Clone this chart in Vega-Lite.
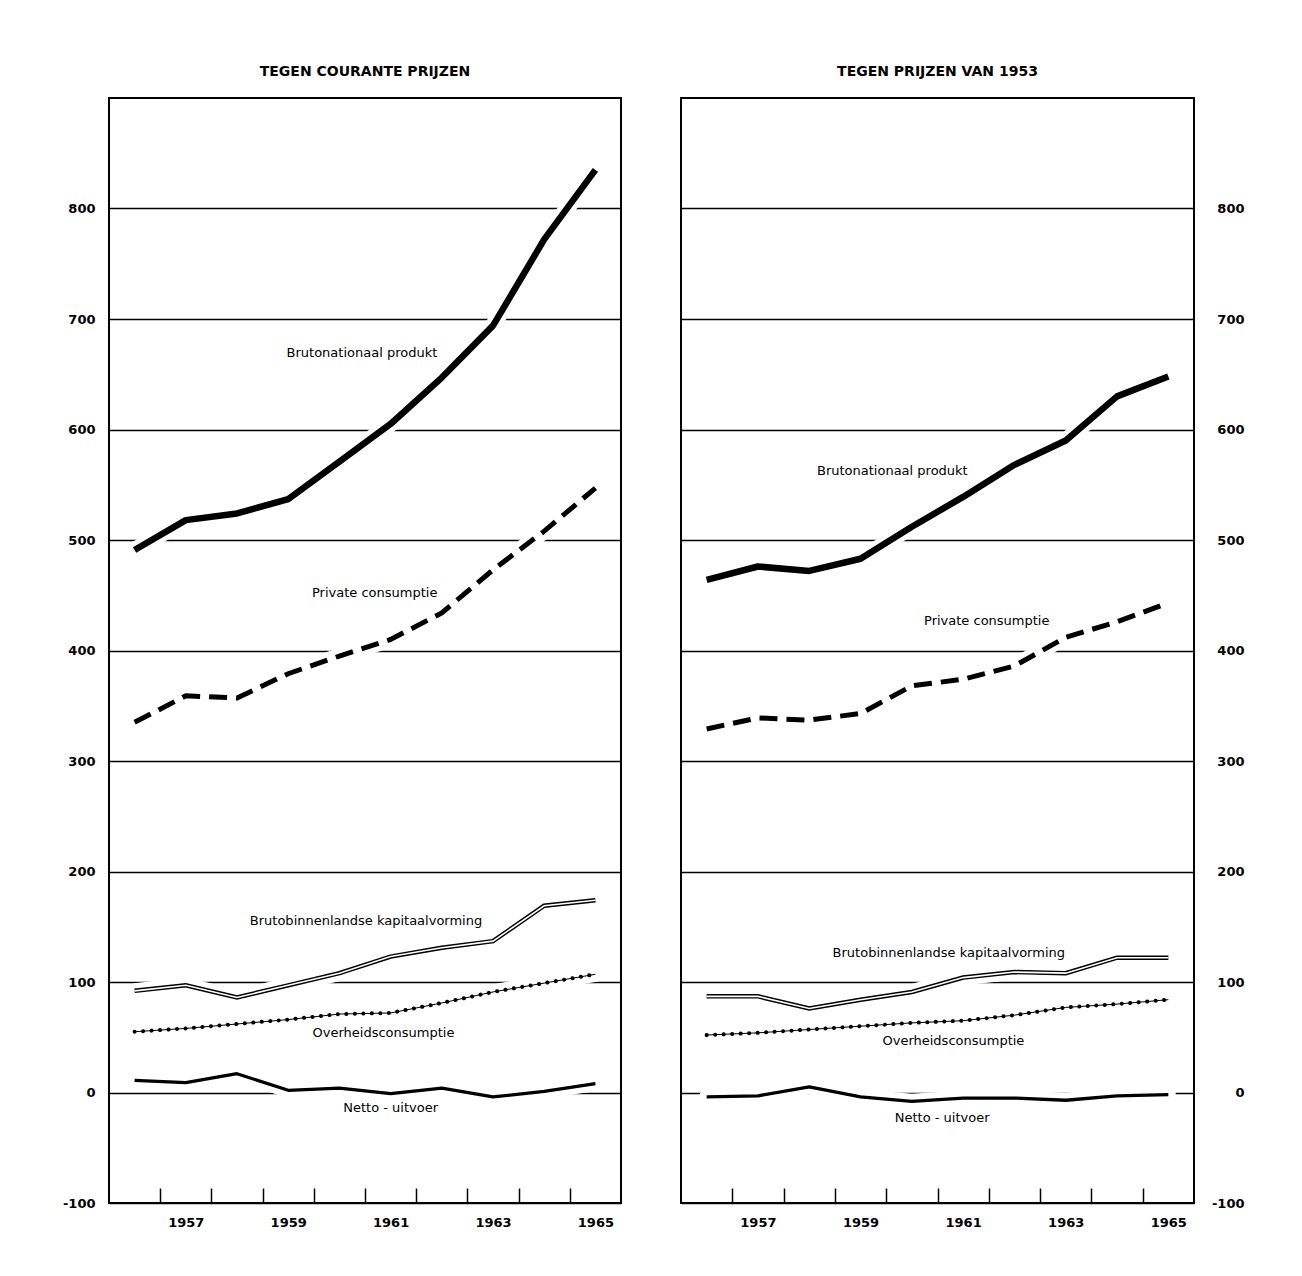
{
  "$schema": "https://vega.github.io/schema/vega-lite/v6.json",
  "background": "white",
  "padding": {"left": 61, "top": 64, "right": 5, "bottom": 5},
  "spacing": 58,
  "datasets": {
    "left": [
      {"s": "Brutonationaal produkt", "year": 1956, "v": 491},
      {"s": "Brutonationaal produkt", "year": 1957, "v": 518},
      {"s": "Brutonationaal produkt", "year": 1958, "v": 524},
      {"s": "Brutonationaal produkt", "year": 1959, "v": 537},
      {"s": "Brutonationaal produkt", "year": 1960, "v": 571},
      {"s": "Brutonationaal produkt", "year": 1961, "v": 605},
      {"s": "Brutonationaal produkt", "year": 1962, "v": 647},
      {"s": "Brutonationaal produkt", "year": 1963, "v": 694},
      {"s": "Brutonationaal produkt", "year": 1964, "v": 772},
      {"s": "Brutonationaal produkt", "year": 1965, "v": 835},
      {"s": "Private consumptie", "year": 1956, "v": 335},
      {"s": "Private consumptie", "year": 1957, "v": 359},
      {"s": "Private consumptie", "year": 1958, "v": 357},
      {"s": "Private consumptie", "year": 1959, "v": 379},
      {"s": "Private consumptie", "year": 1960, "v": 395},
      {"s": "Private consumptie", "year": 1961, "v": 410},
      {"s": "Private consumptie", "year": 1962, "v": 434},
      {"s": "Private consumptie", "year": 1963, "v": 473},
      {"s": "Private consumptie", "year": 1964, "v": 508},
      {"s": "Private consumptie", "year": 1965, "v": 547},
      {"s": "Brutobinnenlandse kapitaalvorming", "year": 1956, "v": 92},
      {"s": "Brutobinnenlandse kapitaalvorming", "year": 1957, "v": 97},
      {"s": "Brutobinnenlandse kapitaalvorming", "year": 1958, "v": 86},
      {"s": "Brutobinnenlandse kapitaalvorming", "year": 1959, "v": 97},
      {"s": "Brutobinnenlandse kapitaalvorming", "year": 1960, "v": 108},
      {"s": "Brutobinnenlandse kapitaalvorming", "year": 1961, "v": 123},
      {"s": "Brutobinnenlandse kapitaalvorming", "year": 1962, "v": 131},
      {"s": "Brutobinnenlandse kapitaalvorming", "year": 1963, "v": 137},
      {"s": "Brutobinnenlandse kapitaalvorming", "year": 1964, "v": 169},
      {"s": "Brutobinnenlandse kapitaalvorming", "year": 1965, "v": 174},
      {"s": "Overheidsconsumptie", "year": 1956, "v": 55},
      {"s": "Overheidsconsumptie", "year": 1957, "v": 58},
      {"s": "Overheidsconsumptie", "year": 1958, "v": 62},
      {"s": "Overheidsconsumptie", "year": 1959, "v": 66},
      {"s": "Overheidsconsumptie", "year": 1960, "v": 71},
      {"s": "Overheidsconsumptie", "year": 1961, "v": 72},
      {"s": "Overheidsconsumptie", "year": 1962, "v": 81},
      {"s": "Overheidsconsumptie", "year": 1963, "v": 91},
      {"s": "Overheidsconsumptie", "year": 1964, "v": 99},
      {"s": "Overheidsconsumptie", "year": 1965, "v": 107},
      {"s": "Netto - uitvoer", "year": 1956, "v": 11},
      {"s": "Netto - uitvoer", "year": 1957, "v": 9},
      {"s": "Netto - uitvoer", "year": 1958, "v": 17},
      {"s": "Netto - uitvoer", "year": 1959, "v": 2},
      {"s": "Netto - uitvoer", "year": 1960, "v": 4},
      {"s": "Netto - uitvoer", "year": 1961, "v": -1},
      {"s": "Netto - uitvoer", "year": 1962, "v": 4},
      {"s": "Netto - uitvoer", "year": 1963, "v": -4},
      {"s": "Netto - uitvoer", "year": 1964, "v": 1},
      {"s": "Netto - uitvoer", "year": 1965, "v": 8}
    ],
    "right": [
      {"s": "Brutonationaal produkt", "year": 1956, "v": 464},
      {"s": "Brutonationaal produkt", "year": 1957, "v": 476},
      {"s": "Brutonationaal produkt", "year": 1958, "v": 472},
      {"s": "Brutonationaal produkt", "year": 1959, "v": 483},
      {"s": "Brutonationaal produkt", "year": 1960, "v": 512},
      {"s": "Brutonationaal produkt", "year": 1961, "v": 539},
      {"s": "Brutonationaal produkt", "year": 1962, "v": 568},
      {"s": "Brutonationaal produkt", "year": 1963, "v": 590},
      {"s": "Brutonationaal produkt", "year": 1964, "v": 630},
      {"s": "Brutonationaal produkt", "year": 1965, "v": 648},
      {"s": "Private consumptie", "year": 1956, "v": 329},
      {"s": "Private consumptie", "year": 1957, "v": 339},
      {"s": "Private consumptie", "year": 1958, "v": 337},
      {"s": "Private consumptie", "year": 1959, "v": 343},
      {"s": "Private consumptie", "year": 1960, "v": 368},
      {"s": "Private consumptie", "year": 1961, "v": 374},
      {"s": "Private consumptie", "year": 1962, "v": 386},
      {"s": "Private consumptie", "year": 1963, "v": 412},
      {"s": "Private consumptie", "year": 1964, "v": 426},
      {"s": "Private consumptie", "year": 1965, "v": 443},
      {"s": "Brutobinnenlandse kapitaalvorming", "year": 1956, "v": 87},
      {"s": "Brutobinnenlandse kapitaalvorming", "year": 1957, "v": 87},
      {"s": "Brutobinnenlandse kapitaalvorming", "year": 1958, "v": 76},
      {"s": "Brutobinnenlandse kapitaalvorming", "year": 1959, "v": 84},
      {"s": "Brutobinnenlandse kapitaalvorming", "year": 1960, "v": 91},
      {"s": "Brutobinnenlandse kapitaalvorming", "year": 1961, "v": 104},
      {"s": "Brutobinnenlandse kapitaalvorming", "year": 1962, "v": 109},
      {"s": "Brutobinnenlandse kapitaalvorming", "year": 1963, "v": 108},
      {"s": "Brutobinnenlandse kapitaalvorming", "year": 1964, "v": 122},
      {"s": "Brutobinnenlandse kapitaalvorming", "year": 1965, "v": 122},
      {"s": "Overheidsconsumptie", "year": 1956, "v": 52},
      {"s": "Overheidsconsumptie", "year": 1957, "v": 54},
      {"s": "Overheidsconsumptie", "year": 1958, "v": 57},
      {"s": "Overheidsconsumptie", "year": 1959, "v": 60},
      {"s": "Overheidsconsumptie", "year": 1960, "v": 63},
      {"s": "Overheidsconsumptie", "year": 1961, "v": 65},
      {"s": "Overheidsconsumptie", "year": 1962, "v": 70},
      {"s": "Overheidsconsumptie", "year": 1963, "v": 77},
      {"s": "Overheidsconsumptie", "year": 1964, "v": 80},
      {"s": "Overheidsconsumptie", "year": 1965, "v": 84},
      {"s": "Netto - uitvoer", "year": 1956, "v": -4},
      {"s": "Netto - uitvoer", "year": 1957, "v": -3},
      {"s": "Netto - uitvoer", "year": 1958, "v": 5},
      {"s": "Netto - uitvoer", "year": 1959, "v": -4},
      {"s": "Netto - uitvoer", "year": 1960, "v": -8},
      {"s": "Netto - uitvoer", "year": 1961, "v": -5},
      {"s": "Netto - uitvoer", "year": 1962, "v": -5},
      {"s": "Netto - uitvoer", "year": 1963, "v": -7},
      {"s": "Netto - uitvoer", "year": 1964, "v": -3},
      {"s": "Netto - uitvoer", "year": 1965, "v": -2}
    ],
    "leftLabels": [
      {"label": "Brutonationaal produkt", "year": 1960.44, "v": 669},
      {"label": "Private consumptie", "year": 1960.69, "v": 452},
      {"label": "Brutobinnenlandse kapitaalvorming", "year": 1960.52, "v": 155},
      {"label": "Overheidsconsumptie", "year": 1960.86, "v": 54},
      {"label": "Netto - uitvoer", "year": 1961.0, "v": -14}
    ],
    "rightLabels": [
      {"label": "Brutonationaal produkt", "year": 1959.62, "v": 562},
      {"label": "Private consumptie", "year": 1961.46, "v": 427},
      {"label": "Brutobinnenlandse kapitaalvorming", "year": 1960.72, "v": 126},
      {"label": "Overheidsconsumptie", "year": 1960.81, "v": 47},
      {"label": "Netto - uitvoer", "year": 1960.59, "v": -23}
    ]
  },
  "hconcat": [
    {
      "width": 512,
      "height": 1105,
      "title": {"text": "TEGEN COURANTE PRIJZEN"},
      "data": {"name": "left"},
      "encoding": {
        "x": {
          "field": "year", "type": "quantitative",
          "scale": {"domain": [1955.5, 1965.5], "nice": false, "zero": false},
          "axis": {
            "title": null, "grid": false, "domain": false,
            "values": [1956.5, 1957.5, 1958.5, 1959.5, 1960.5, 1961.5, 1962.5, 1963.5, 1964.5],
            "labelExpr": "(datum.value - 1956.5) % 2 == 0 ? format(datum.value + 0.5, 'd') : ''",
            "labelOffset": 25.6, "labelFlush": false, "labelOverlap": false,
            "tickSize": -15, "tickColor": "black", "tickWidth": 1.5, "labelPadding": 28
          }
        },
        "y": {
          "field": "v", "type": "quantitative",
          "scale": {"domain": [-100, 900], "nice": false, "zero": false},
          "axis": {
            "title": null, "grid": true, "domain": false, "ticks": false,
            "values": [-100, 0, 100, 200, 300, 400, 500, 600, 700, 800],
            "labelExpr": "toString(datum.value)",
            "gridColor": "black", "gridWidth": 1.6, "gridOpacity": 1,
            "labelPadding": 14
          }
        }
      },
      "layer": [
        {"mark": {"type": "line", "color": "white", "strokeCap": "round", "strokeJoin": "round"}, "encoding": {"detail": {"field": "s"}, "strokeWidth": {"field": "s", "type": "nominal", "legend": null, "scale": {"domain": ["Brutonationaal produkt", "Private consumptie", "Brutobinnenlandse kapitaalvorming", "Overheidsconsumptie", "Netto - uitvoer"], "range": [16, 15, 13, 13, 9]}}}},
        {"transform": [{"filter": "datum.s == 'Brutonationaal produkt'"}], "mark": {"type": "line", "color": "black", "strokeWidth": 6.5, "strokeJoin": "round"}, "encoding": {}},
        {"transform": [{"filter": "datum.s == 'Private consumptie'"}], "mark": {"type": "line", "color": "black", "strokeWidth": 5, "strokeDash": [18, 9]}, "encoding": {}},
        {"transform": [{"filter": "datum.s == 'Brutobinnenlandse kapitaalvorming'"}], "mark": {"type": "line", "color": "black", "strokeWidth": 4.5}, "encoding": {}},
        {"transform": [{"filter": "datum.s == 'Brutobinnenlandse kapitaalvorming'"}], "mark": {"type": "line", "color": "white", "strokeWidth": 1.6}, "encoding": {}},
        {"transform": [{"filter": "datum.s == 'Overheidsconsumptie'"}], "mark": {"type": "line", "color": "black", "strokeWidth": 1}, "encoding": {}},
        {"transform": [{"filter": "datum.s == 'Overheidsconsumptie'"}], "mark": {"type": "line", "color": "black", "strokeWidth": 4, "strokeDash": [0.1, 8.4], "strokeCap": "round"}, "encoding": {}},
        {"transform": [{"filter": "datum.s == 'Netto - uitvoer'"}], "mark": {"type": "line", "color": "black", "strokeWidth": 3.3, "strokeJoin": "round"}, "encoding": {}},
        {"data": {"name": "leftLabels"}, "mark": {"type": "text", "font": "DejaVu Sans", "fontSize": 13, "color": "black", "align": "center", "baseline": "middle"}, "encoding": {"text": {"field": "label"}}}
      ]
    },
    {
      "width": 513,
      "height": 1105,
      "title": {"text": "TEGEN PRIJZEN VAN 1953"},
      "data": {"name": "right"},
      "encoding": {
        "x": {
          "field": "year", "type": "quantitative",
          "scale": {"domain": [1955.5, 1965.5], "nice": false, "zero": false},
          "axis": {
            "title": null, "grid": false, "domain": false,
            "values": [1956.5, 1957.5, 1958.5, 1959.5, 1960.5, 1961.5, 1962.5, 1963.5, 1964.5],
            "labelExpr": "(datum.value - 1956.5) % 2 == 0 ? format(datum.value + 0.5, 'd') : ''",
            "labelOffset": 25.6, "labelFlush": false, "labelOverlap": false,
            "tickSize": -15, "tickColor": "black", "tickWidth": 1.5, "labelPadding": 28
          }
        },
        "y": {
          "field": "v", "type": "quantitative",
          "scale": {"domain": [-100, 900], "nice": false, "zero": false},
          "axis": {
            "orient": "right",
            "title": null, "grid": true, "domain": false, "ticks": false,
            "values": [-100, 0, 100, 200, 300, 400, 500, 600, 700, 800],
            "labelExpr": "toString(datum.value)",
            "gridColor": "black", "gridWidth": 1.6, "gridOpacity": 1,
            "labelAlign": "right", "labelPadding": 50
          }
        }
      },
      "layer": [
        {"mark": {"type": "line", "color": "white", "strokeCap": "round", "strokeJoin": "round"}, "encoding": {"detail": {"field": "s"}, "strokeWidth": {"field": "s", "type": "nominal", "legend": null, "scale": {"domain": ["Brutonationaal produkt", "Private consumptie", "Brutobinnenlandse kapitaalvorming", "Overheidsconsumptie", "Netto - uitvoer"], "range": [16, 15, 13, 13, 9]}}}},
        {"transform": [{"filter": "datum.s == 'Brutonationaal produkt'"}], "mark": {"type": "line", "color": "black", "strokeWidth": 6.5, "strokeJoin": "round"}, "encoding": {}},
        {"transform": [{"filter": "datum.s == 'Private consumptie'"}], "mark": {"type": "line", "color": "black", "strokeWidth": 5, "strokeDash": [18, 9]}, "encoding": {}},
        {"transform": [{"filter": "datum.s == 'Brutobinnenlandse kapitaalvorming'"}], "mark": {"type": "line", "color": "black", "strokeWidth": 4.5}, "encoding": {}},
        {"transform": [{"filter": "datum.s == 'Brutobinnenlandse kapitaalvorming'"}], "mark": {"type": "line", "color": "white", "strokeWidth": 1.6}, "encoding": {}},
        {"transform": [{"filter": "datum.s == 'Overheidsconsumptie'"}], "mark": {"type": "line", "color": "black", "strokeWidth": 1}, "encoding": {}},
        {"transform": [{"filter": "datum.s == 'Overheidsconsumptie'"}], "mark": {"type": "line", "color": "black", "strokeWidth": 4, "strokeDash": [0.1, 8.4], "strokeCap": "round"}, "encoding": {}},
        {"transform": [{"filter": "datum.s == 'Netto - uitvoer'"}], "mark": {"type": "line", "color": "black", "strokeWidth": 3.3, "strokeJoin": "round"}, "encoding": {}},
        {"data": {"name": "rightLabels"}, "mark": {"type": "text", "font": "DejaVu Sans", "fontSize": 13, "color": "black", "align": "center", "baseline": "middle"}, "encoding": {"text": {"field": "label"}}}
      ]
    }
  ],
  "config": {
    "view": {"stroke": "black", "strokeWidth": 2},
    "axis": {"labelFont": "DejaVu Sans", "labelFontSize": 13, "labelFontWeight": "bold", "labelColor": "black"},
    "title": {"font": "DejaVu Sans", "fontSize": 14, "fontWeight": "bold", "color": "black", "anchor": "middle", "offset": 19}
  }
}
